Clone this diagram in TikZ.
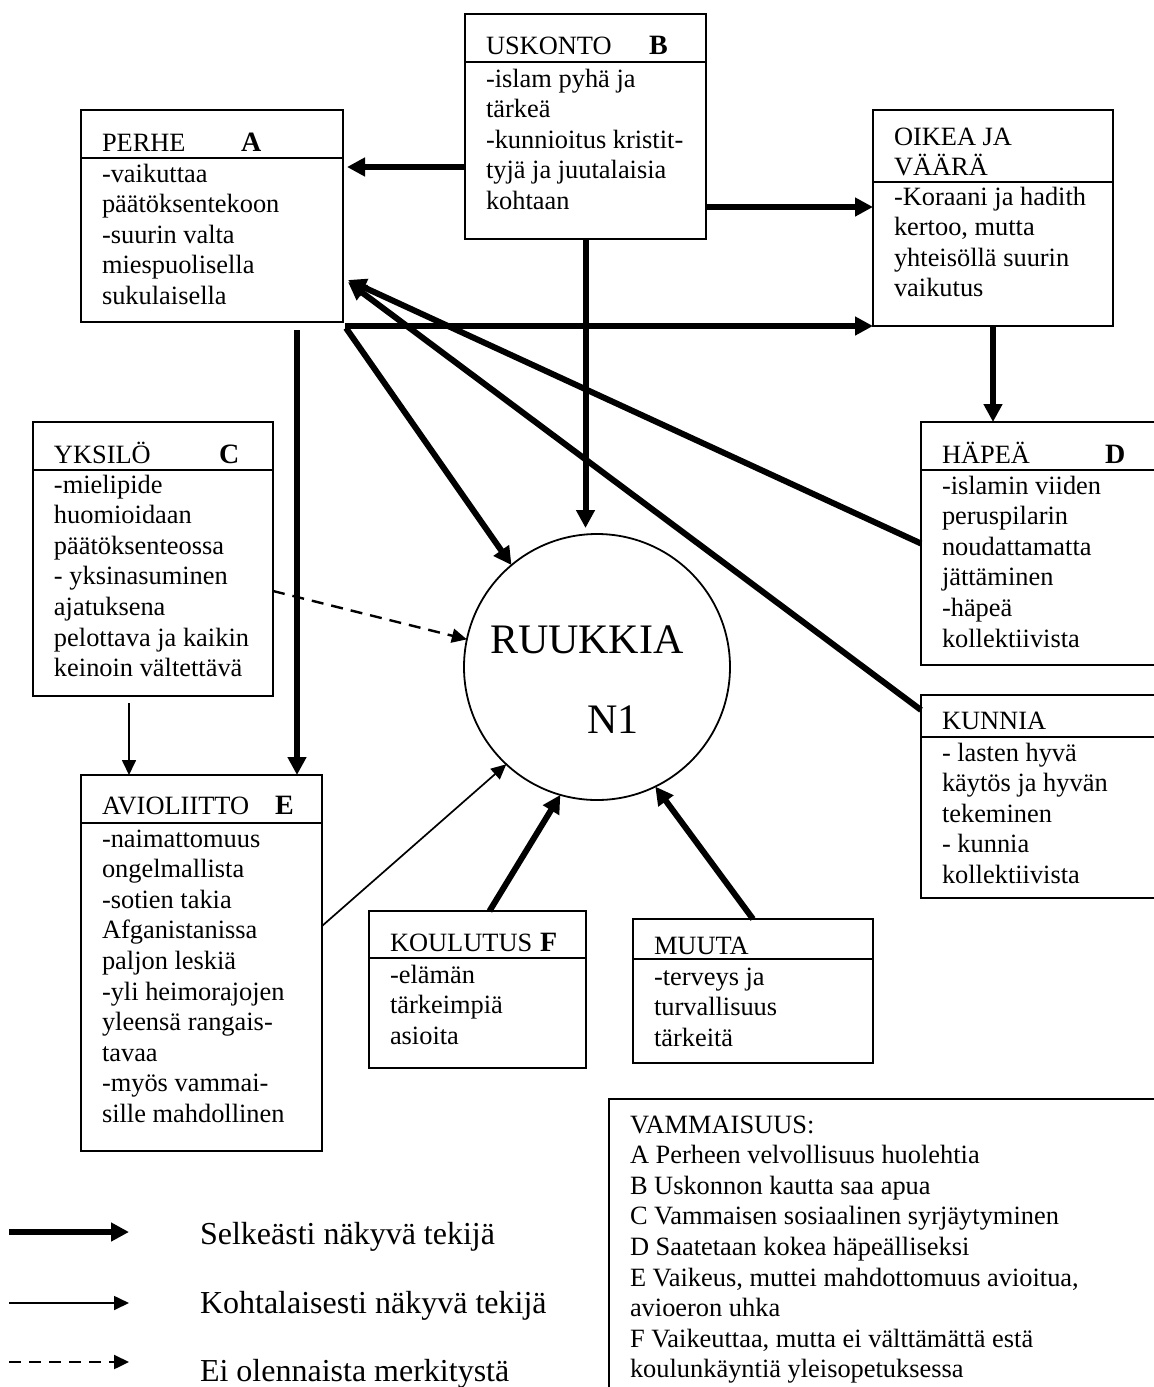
\documentclass[tikz,border=0pt]{standalone}
\usepackage{fontspec}
\setmainfont{Liberation Serif}
\usetikzlibrary{arrows.meta,calc}

\newcommand\bodyfont{\fontsize{13.2}{15.3}\selectfont}
\newcommand\lines[1]{\parbox[t]{260pt}{#1}}

\tikzset{
  frame/.style={draw, line width=1pt, inner sep=0pt, outer sep=0pt},
  hidden/.style={inner sep=0pt, outer sep=0pt},
  edge/.style={line width=1pt},
  txt/.style={anchor=base west, inner sep=0pt, outer sep=0pt, font=\bodyfont},
  letter/.style={anchor=base west, inner sep=0pt, outer sep=0pt, font=\fontsize{14}{16}\selectfont\bfseries},
  legendtxt/.style={anchor=base west, inner sep=0pt, outer sep=0pt, font=\fontsize{16}{18}\selectfont},
  bigtxt/.style={anchor=base west, inner sep=0pt, outer sep=0pt, font=\fontsize{21}{24}\selectfont},
  strong/.style={line width=3pt, -{Triangle[length=9pt,width=9pt]}},
  medium/.style={line width=0.85pt, -{Triangle[length=7.5pt,width=7pt]}},
  weak/.style={line width=1.2pt, dash pattern=on 6pt off 4pt, -{Triangle[length=7.5pt,width=7pt]}},
}

\begin{document}
\begin{tikzpicture}[x=0.5pt, y=-0.5pt]
\useasboundingbox (0,0) rectangle (1154,1387);

% ---- boxes ----
\node[frame, minimum width=131pt, minimum height=106pt] (perhe) at (212,216) {};
\node[frame, minimum width=120.5pt, minimum height=112.5pt] (uskonto) at (585.5,126.5) {};
\node[frame, minimum width=120pt, minimum height=108pt] (oikea) at (993,218) {};
\node[frame, minimum width=120pt, minimum height=137pt] (yksilo) at (153,559) {};
\node[hidden, minimum width=116.5pt, minimum height=121.5pt] (hapea) at (1037.5,543.5) {};
\node[hidden, minimum width=116.5pt, minimum height=101.5pt] (kunnia) at (1037.5,796.5) {};
\node[frame, minimum width=120.5pt, minimum height=188pt] (avio) at (201.5,963) {};
\node[frame, minimum width=108.5pt, minimum height=78.5pt] (koulutus) at (477.5,989.5) {};
\node[frame, minimum width=120pt, minimum height=72pt] (muuta) at (753,991) {};
\node[hidden, minimum width=272.5pt, minimum height=144pt] (vamm) at (881.5,1243) {};
\node[draw, circle, line width=0.9pt, minimum size=133pt, inner sep=0pt, outer sep=0pt] (ruukkia) at (597,667) {};

% open boxes running off the right edge
\draw[edge] (hapea.north east) -- (hapea.north west) -- (hapea.south west) -- (hapea.south east);
\draw[edge] (kunnia.north east) -- (kunnia.north west) -- (kunnia.south west) -- (kunnia.south east);
\draw[edge] (vamm.south west) -- (vamm.north west) -- (vamm.north east);

% header dividers
\draw[edge] ($(perhe.north west)+(0,48)$) -- ($(perhe.north east)+(0,48)$);
\draw[edge] ($(uskonto.north west)+(0,48)$) -- ($(uskonto.north east)+(0,48)$);
\draw[edge] ($(oikea.north west)+(0,72)$) -- ($(oikea.north east)+(0,72)$);
\draw[edge] ($(yksilo.north west)+(0,48)$) -- ($(yksilo.north east)+(0,48)$);
\draw[edge] ($(hapea.north west)+(0,48)$) -- ($(hapea.north east)+(0,48)$);
\draw[edge] ($(kunnia.north west)+(0,42)$) -- ($(kunnia.north east)+(0,42)$);
\draw[edge] ($(avio.north west)+(0,48)$) -- ($(avio.north east)+(0,48)$);
\draw[edge] ($(koulutus.north west)+(0,47)$) -- ($(koulutus.north east)+(0,47)$);
\draw[edge] ($(muuta.north west)+(0,40)$) -- ($(muuta.north east)+(0,40)$);

% ---- texts ----
\node[txt] (perhe-t) at (102,151) {PERHE};
\node[letter] (perhe-l) at (241,151) {A};
\node[txt] (perhe-b) at (102,182) {\lines{-vaikuttaa\\päätöksentekoon\\-suurin valta\\miespuolisella\\sukulaisella}};

\node[txt] (uskonto-t) at (486,54) {USKONTO};
\node[letter] (uskonto-l) at (649,54) {B};
\node[txt] (uskonto-b) at (486,87) {\lines{-islam pyhä ja\\tärkeä\\-kunnioitus kristit-\\tyjä ja juutalaisia\\kohtaan}};

\node[txt] (oikea-t) at (894,145) {\lines{OIKEA JA\\VÄÄRÄ}};
\node[txt] (oikea-b) at (894,205) {\lines{-Koraani ja hadith\\kertoo, mutta\\yhteisöllä suurin\\vaikutus}};

\node[txt] (yksilo-t) at (54,463) {YKSILÖ};
\node[letter] (yksilo-l) at (219,463) {C};
\node[txt] (yksilo-b) at (54,493) {\lines{-mielipide\\huomioidaan\\päätöksenteossa\\- yksinasuminen\\ajatuksena\\pelottava ja kaikin\\keinoin vältettävä}};

\node[txt] (hapea-t) at (942,463) {HÄPEÄ};
\node[letter] (hapea-l) at (1105,463) {D};
\node[txt] (hapea-b) at (942,494) {\lines{-islamin viiden\\peruspilarin\\noudattamatta\\jättäminen\\-häpeä\\kollektiivista}};

\node[txt] (kunnia-t) at (942,729) {KUNNIA};
\node[txt] (kunnia-b) at (942,761) {\lines{- lasten hyvä\\käytös ja hyvän\\tekeminen\\- kunnia\\kollektiivista}};

\node[txt] (avio-t) at (102,814) {AVIOLIITTO};
\node[letter] (avio-l) at (275,814) {E};
\node[txt] (avio-b) at (102,847) {\lines{-naimattomuus\\ongelmallista\\-sotien takia\\Afganistanissa\\paljon leskiä\\-yli heimorajojen\\yleensä rangais-\\tavaa\\-myös vammai-\\sille mahdollinen}};

\node[txt] (koulutus-t) at (390,951) {KOULUTUS};
\node[letter] (koulutus-l) at (540,951) {F};
\node[txt] (koulutus-b) at (390,983) {\lines{-elämän\\tärkeimpiä\\asioita}};

\node[txt] (muuta-t) at (654,954) {MUUTA};
\node[txt] (muuta-b) at (654,985) {\lines{-terveys ja\\turvallisuus\\tärkeitä}};

\node[txt] (vamm-b) at (630,1133) {\lines{VAMMAISUUS:\\A Perheen velvollisuus huolehtia\\B Uskonnon kautta saa apua\\C Vammaisen sosiaalinen syrjäytyminen\\D Saatetaan kokea häpeälliseksi\\E Vaikeus, muttei mahdottomuus avioitua,\\avioeron uhka\\F Vaikeuttaa, mutta ei välttämättä estä\\koulunkäyntiä yleisopetuksessa}};

\node[bigtxt] (ruukkia-t) at (490,653) {RUUKKIA};
\node[bigtxt] (ruukkia-n) at (587,733) {N1};

% ---- connectors ----
\draw[strong] ($(uskonto.north west)+(0,153)$) -- ($(perhe.north east)+(4,57)$);
\draw[strong] ($(uskonto.north east)+(0,193)$) -- ($(oikea.north west)+(0,97)$);
\draw[strong, shorten >=3pt] (uskonto.south) -- (uskonto.south |- ruukkia.north);
\draw[strong] ($(perhe.south east)+(2,4)$) -- (oikea.south west);
\draw[strong] ($(perhe.south east)+(3,6)$) -- (ruukkia.130);
\draw[strong] ($(perhe.south west)+(216,8)$) -- ($(avio.north west)+(216,0)$);
\draw[strong] (oikea.south) -- (oikea.south |- hapea.north);
\draw[strong] (hapea.west) -- ($(perhe.south east)+(5,-42)$);
\draw[strong] ($(kunnia.north west)+(0,15)$) -- ($(perhe.south east)+(5,-40)$);
\draw[strong] ($(koulutus.north)+(12,0)$) -- (ruukkia.-106);
\draw[strong] (muuta.north) -- (ruukkia.-64);
\draw[medium] ($(yksilo.south west)+(96,7)$) -- ($(avio.north west)+(48,0)$);
\draw[medium] ($(avio.north east)+(0,151)$) -- (ruukkia.-133);
\draw[weak] ($(yksilo.north east)+(0,169)$) -- (ruukkia.168);

% ---- legend ----
\coordinate (k1a) at (9,1232);
\coordinate (k1b) at (129,1232);
\coordinate (k2a) at (9,1303);
\coordinate (k2b) at (129,1303);
\coordinate (k3a) at (9,1362);
\coordinate (k3b) at (129,1362);
\draw[strong] (k1a) -- (k1b);
\draw[medium] (k2a) -- (k2b);
\draw[weak] (k3a) -- (k3b);
\node[legendtxt] (k1-t) at (200,1244) {Selkeästi näkyvä tekijä};
\node[legendtxt] (k2-t) at (200,1313) {Kohtalaisesti näkyvä tekijä};
\node[legendtxt] (k3-t) at (200,1381) {Ei olennaista merkitystä};
\end{tikzpicture}
\end{document}
